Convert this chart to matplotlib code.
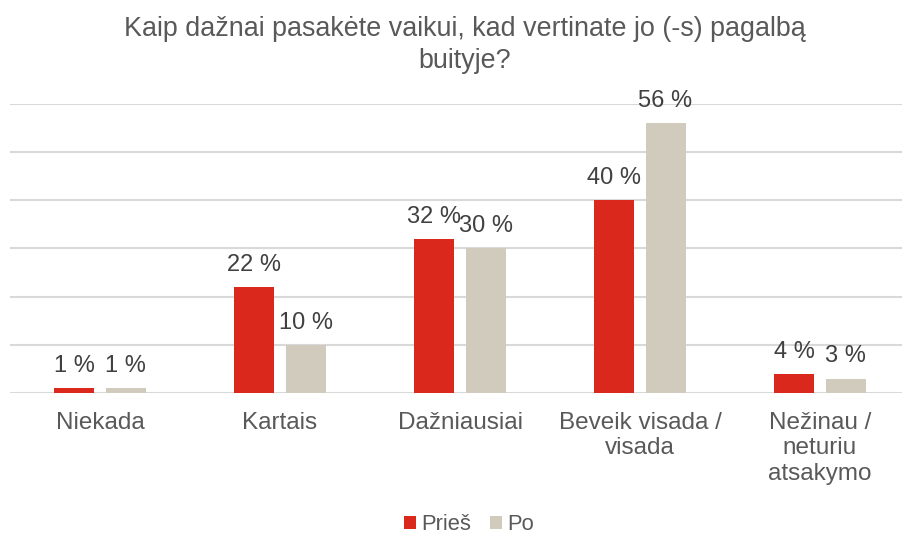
import numpy as np
import matplotlib.pyplot as plt

plt.rcParams['font.family'] = ['Liberation Sans', 'DejaVu Sans']

# data
categories = ['Niekada', 'Kartais', 'Dažniausiai', 'Beveik visada /\nvisada', 'Nežinau /\nneturiu\natsakymo']
pries = [1, 22, 32, 40, 4]
po = [1, 10, 30, 56, 3]
series_names = ['Prieš', 'Po']
colors = ['#DA291C', '#D1CBBE']
label_color = '#404040'
text_color = '#595959'

W, H = 902, 536
fig = plt.figure(figsize=(W / 100, H / 100), dpi=100)
# axes placed in pixel terms: left 10, right 902, bottom 393, top 104
ax = fig.add_axes([10 / W, (H - 393) / H, 892 / W, 289 / H])

x = np.arange(len(categories))
width = 0.222
offset = 0.142

bars1 = ax.bar(x - offset, pries, width, color=colors[0], label=series_names[0], zorder=3)
bars2 = ax.bar(x + offset, po, width, color=colors[1], label=series_names[1], zorder=3)

# value labels above bars
for bars, vals in [(bars1, pries), (bars2, po)]:
    for b, v in zip(bars, vals):
        ax.annotate(f'{v} %', (b.get_x() + b.get_width() / 2, v),
                    xytext=(0, 8), textcoords='offset points',
                    ha='center', va='bottom', fontsize=17, color=label_color)

ax.set_xlim(-0.5, -0.5 + 892 / 180)
ax.set_ylim(0, 60)
ax.set_yticks(np.arange(0, 61, 10))
ax.yaxis.grid(True, color='#D9D9D9', linewidth=1.5, zorder=0)
ax.tick_params(left=False, labelleft=False, bottom=False)
for s in ax.spines.values():
    s.set_visible(False)

ax.set_xticks(x)
ax.set_xticklabels(categories, fontsize=17.5, color=text_color, linespacing=1.2)
ax.tick_params(axis='x', pad=10)

fig.text(465 / W, 1 - 45 / H, 'Kaip dažnai pasakėte vaikui, kad vertinate jo (-s) pagalbą\nbuityje?',
         ha='center', va='center', fontsize=19.4, color=text_color, linespacing=1.25)

fig.legend(loc='center', bbox_to_anchor=(469 / W, 1 - 525 / H), ncol=2, frameon=False,
           fontsize=15.8, handlelength=0.55, handleheight=0.55, handletextpad=0.25,
           columnspacing=0.85, labelcolor=text_color)

fig.savefig('out.png', dpi=100)
